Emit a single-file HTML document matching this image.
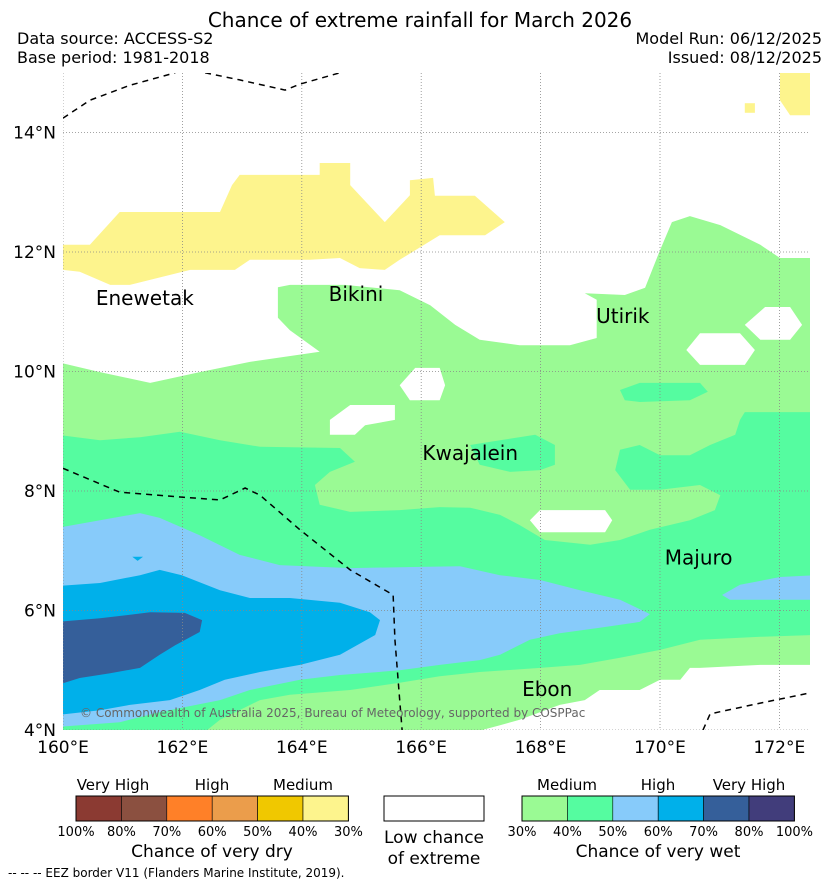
<!DOCTYPE html>
<html><head><meta charset="utf-8">
<style>
html,body{margin:0;padding:0;background:#fff;}
body{width:839px;height:885px;overflow:hidden;font-family:"DejaVu Sans","Liberation Sans",sans-serif;}
svg{display:block;}
</style></head>
<body>
<svg id="chart" width="839" height="885" viewBox="0 0 839 885" font-family="DejaVu Sans, Liberation Sans, sans-serif">
<defs><clipPath id="mapclip"><rect x="63" y="73" width="747" height="657"/></clipPath></defs>
<text x="420" y="27" text-anchor="middle" font-size="20">Chance of extreme rainfall for March 2026</text>
<text x="17" y="44" font-size="16">Data source: ACCESS-S2</text>
<text x="17" y="63" font-size="16">Base period: 1981-2018</text>
<text x="822" y="44" font-size="16" text-anchor="end">Model Run: 06/12/2025</text>
<text x="822" y="63" font-size="16" text-anchor="end">Issued: 08/12/2025</text>
<g id="map" clip-path="url(#mapclip)"></g>
<g id="axes"></g>
<g id="legend"></g>
</svg>
<script>
const NS="http://www.w3.org/2000/svg";
const lonTicks=[160,162,164,166,168,170,172];
const latTicks=[4,6,8,10,12,14];
const colDry=["#8b3a32","#8b5040","#ff8028","#eb9d4b","#f0c800","#fdf48d"];
const colWet=["#9afa94","#55fca0","#87cbfa","#00b0ea","#355f9a","#413d7b"];
const pctDry=["100%","80%","70%","60%","50%","40%","30%"];
const pctWet=["30%","40%","50%","60%","70%","80%","100%"];
const dryYellow=[[160,12.12],[160.45,12.12],[160.95,12.67],[162.63,12.67],[162.83,13.12],[162.96,13.29],[164.30,13.29],[164.30,13.49],[164.81,13.49],[164.81,13.12],[165.39,12.50],[165.81,12.95],[165.81,13.20],[166.20,13.24],[166.23,12.94],[166.90,12.94],[167.40,12.50],[167.07,12.28],[166.31,12.28],[165.64,11.87],[165.39,11.70],[164.97,11.73],[164.64,11.90],[164.14,11.87],[163.13,11.87],[162.88,11.70],[162.13,11.70],[161.12,11.45],[160.79,11.45],[160.28,11.67],[160,11.70]];
const dryYellowNE=[[172.01,15.2],[172.6,15.2],[172.6,14.29],[172.18,14.29],[172.01,14.54]];
const dryYellowSmall=[[171.42,14.49],[171.59,14.49],[171.59,14.33],[171.42,14.33]];
const wet30=[[159.9,10.16],[160.62,9.99],[161.46,9.81],[162.29,9.99],[163.13,10.16],[164.30,10.33],[163.80,10.69],[163.60,10.90],[163.60,11.41],[163.80,11.45],[164.72,11.45],[165.64,11.36],[166.15,11.11],[166.57,10.78],[166.98,10.53],[167.65,10.44],[168.49,10.44],[168.94,10.56],[168.94,11.20],[168.74,11.31],[169.41,11.28],[169.75,11.40],[170.00,12.03],[170.20,12.50],[170.50,12.60],[171.01,12.45],[171.68,12.12],[172.01,11.90],[172.6,11.90],[172.6,5.09],[171.68,5.09],[170.67,5.04],[170.50,5.04],[170.34,4.84],[170.00,4.84],[169.66,4.67],[168.99,4.67],[168.74,4.50],[168.32,4.42],[167.65,4.17],[167.32,4.08],[166.65,3.9],[159.9,3.9]];
const holes=[
 [[165.64,9.77],[165.90,10.06],[166.31,10.06],[166.40,9.77],[166.31,9.52],[165.81,9.52]],
 [[164.47,9.19],[164.81,9.44],[165.56,9.44],[165.56,9.19],[165.06,9.10],[164.89,8.94],[164.47,8.94]],
 [[167.82,7.51],[167.99,7.68],[169.08,7.68],[169.20,7.51],[169.08,7.31],[167.99,7.31]],
 [[170.44,10.36],[170.67,10.64],[171.34,10.64],[171.59,10.36],[171.42,10.11],[170.67,10.11]],
 [[171.42,10.78],[171.76,11.08],[172.18,11.08],[172.38,10.78],[172.18,10.53],[171.68,10.53]]];
const wet40=[[159.9,8.94],[160.62,8.85],[161.29,8.90],[161.96,8.99],[162.63,8.85],[163.30,8.74],[164.64,8.72],[164.89,8.49],[164.47,8.32],[164.22,8.10],[164.30,7.77],[164.81,7.65],[165.64,7.68],[166.31,7.73],[166.82,7.72],[167.32,7.60],[167.65,7.43],[168.07,7.18],[168.83,7.10],[169.33,7.18],[169.83,7.35],[170.50,7.51],[170.92,7.68],[171.01,7.93],[170.67,8.10],[170.00,8.02],[169.50,8.02],[169.25,8.35],[169.33,8.69],[169.66,8.77],[170.00,8.60],[170.50,8.60],[170.84,8.77],[171.26,8.94],[171.34,9.19],[171.42,9.32],[172.6,9.32],[172.6,5.59],[171.68,5.56],[170.67,5.51],[170.00,5.34],[169.33,5.21],[168.66,5.09],[167.99,5.04],[166.98,4.97],[166.31,4.90],[165.64,4.79],[164.81,4.67],[163.80,4.59],[163.30,4.50],[162.63,4.17],[162.29,3.9],[159.9,3.9]];
const wet40Kwaj=[[166.82,8.77],[167.32,8.85],[167.91,8.94],[168.24,8.77],[168.24,8.44],[167.99,8.35],[167.49,8.32],[166.98,8.44]];
const wet40North=[[169.33,9.69],[169.66,9.81],[170.67,9.81],[170.80,9.66],[170.50,9.52],[169.66,9.49],[169.41,9.52]];
const wet50=[[159.9,7.38],[160.62,7.51],[161.29,7.63],[161.62,7.55],[162.29,7.26],[162.96,6.93],[163.63,6.76],[164.81,6.71],[165.98,6.73],[166.65,6.74],[167.32,6.59],[167.99,6.51],[168.66,6.34],[169.33,6.18],[169.83,5.94],[169.66,5.81],[168.99,5.71],[168.32,5.62],[167.82,5.51],[167.32,5.26],[166.98,5.17],[166.31,5.09],[165.64,5.00],[164.64,4.92],[163.97,4.84],[163.13,4.67],[162.63,4.50],[161.62,4.30],[160.95,4.13],[160.28,4.08],[159.9,4.05]];
const wet50East=[[171.04,6.26],[171.34,6.43],[172.01,6.56],[172.6,6.59],[172.6,6.18],[171.68,6.18],[171.17,6.18]];
const wet60=[[159.9,6.41],[160.62,6.46],[161.29,6.59],[161.62,6.68],[161.99,6.59],[162.63,6.34],[163.13,6.21],[163.80,6.21],[164.64,6.13],[165.14,5.97],[165.31,5.84],[165.23,5.59],[164.64,5.26],[163.97,5.09],[163.30,4.97],[162.71,4.84],[162.29,4.67],[161.79,4.50],[161.12,4.42],[160.62,4.33],[159.9,4.25]];
const wet60Dot=[[161.16,6.90],[161.34,6.90],[161.25,6.83]];
const wet70=[[159.9,5.81],[160.62,5.87],[161.46,5.97],[162.04,5.96],[162.33,5.84],[162.29,5.64],[161.88,5.42],[161.62,5.26],[161.29,5.04],[160.79,4.95],[160.28,4.87],[159.9,4.75]];
const eez1=[[160,14.24],[160.45,14.54],[161.12,14.79],[161.88,15.0]];
const eez2=[[162.38,15],[162.96,14.88],[163.72,14.71],[163.97,14.81],[164.64,15]];
const eez3=[[160,8.38],[160.95,7.98],[161.96,7.90],[162.63,7.85],[163.05,8.05],[163.30,7.93],[163.97,7.35],[164.81,6.68],[165.53,6.26],[165.56,5.51],[165.64,4.50],[165.68,4]];
const eez4=[[170.72,4],[170.84,4.27],[171.68,4.45],[172.51,4.62]];
const placeNames=["Enewetak","Bikini","Utirik","Kwajalein","Majuro","Ebon"];
const placeLon=[160.55,164.45,168.93,166.02,170.08,167.69];
const placeLat=[11.11,11.18,10.81,8.52,6.77,4.57];

const X=lon=>63+(lon-160)*59.7;
const Y=lat=>730-(lat-4)*59.75;
function el(tag,attrs,parent){const e=document.createElementNS(NS,tag);for(const k in attrs)e.setAttribute(k,attrs[k]);parent.appendChild(e);return e;}
const map=document.getElementById('map');
function poly(pts,fill,name){
  const p=el('polygon',{points:pts.map(q=>X(q[0]).toFixed(1)+','+Y(q[1]).toFixed(1)).join(' '),fill:fill},map);
  
  
}
const bg=el('rect',{x:63,y:73,width:747,height:657,fill:'#fff'},map);


poly(dryYellow,colDry[5],'dry-30-region');
poly(dryYellowNE,colDry[5],'dry-30-region-ne');
poly(dryYellowSmall,colDry[5],'dry-30-region-small');
poly(wet30,colWet[0],'wet-30-region');
holes.forEach((h,i)=>poly(h,'#fff','low-chance-hole-'+i));
poly(wet40,colWet[1],'wet-40-region');
poly(wet40Kwaj,colWet[1],'wet-40-kwajalein');
poly(wet40North,colWet[1],'wet-40-north');
poly(wet50,colWet[2],'wet-50-region');
poly(wet50East,colWet[2],'wet-50-east');
poly(wet60,colWet[3],'wet-60-region');
poly(wet60Dot,colWet[3],'wet-60-dot');
poly(wet70,colWet[4],'wet-70-region');
lonTicks.forEach(l=>{const g=el('line',{x1:X(l),x2:X(l),y1:73,y2:730,stroke:'#888','stroke-width':0.8,'stroke-dasharray':'1,2'},map);
 
 });
latTicks.forEach(l=>{const g=el('line',{x1:63,x2:810,y1:Y(l),y2:Y(l),stroke:'#888','stroke-width':0.8,'stroke-dasharray':'1,2'},map);
 
 });
[eez1,eez2,eez3,eez4].forEach((l,i)=>{const p=el('polyline',{points:l.map(q=>X(q[0])+','+Y(q[1])).join(' '),fill:'none',stroke:'#000','stroke-width':1.5,'stroke-dasharray':'6,5'},map);
 
 });
placeNames.forEach((n,i)=>{const t=el('text',{x:X(placeLon[i]),y:Y(placeLat[i]),'font-size':20,fill:'#000'},map);t.textContent=n;
 
 });
const cp=el('text',{x:80,y:717,'font-size':12,fill:'#666'},map);cp.textContent='© Commonwealth of Australia 2025, Bureau of Meteorology, supported by COSPPac';


const axes=document.getElementById('axes');
lonTicks.forEach(l=>{const t=el('text',{x:X(l),y:753,'font-size':17,'text-anchor':'middle'},axes);t.textContent=l+'°E';
 
 });
latTicks.forEach(l=>{const t=el('text',{x:56,y:Y(l)+6,'font-size':17,'text-anchor':'end'},axes);t.textContent=l+'°N';
 
 });
const lg=document.getElementById('legend');
function bar(x0,cols,pcts,cats,catX,title,tx,nm){
  const w=45.4;
  cols.forEach((c,i)=>{const r=el('rect',{x:x0+i*w,y:796,width:w,height:25,fill:c,stroke:'#000','stroke-width':0.6},lg);
   
   });
  const fr=el('rect',{x:x0,y:796,width:w*6,height:25,fill:'none',stroke:'#000','stroke-width':1},lg);
  
  
  pcts.forEach((p,i)=>{const t=el('text',{x:x0+i*w,y:836,'font-size':13,'text-anchor':'middle'},lg);t.textContent=p;
   
   });
  cats.forEach((c,i)=>{const t=el('text',{x:catX[i],y:790,'font-size':15,'text-anchor':'middle'},lg);t.textContent=c;
   
   });
  const t=el('text',{x:tx,y:857,'font-size':17,'text-anchor':'middle'},lg);t.textContent=title;
  
  
}
bar(76,colDry,pctDry,["Very High","High","Medium"],[113,212,303],"Chance of very dry",212,'dry-legend');
bar(522,colWet,pctWet,["Medium","High","Very High"],[567,658,749],"Chance of very wet",658,'wet-legend');
const lb=el('rect',{x:384,y:796,width:100,height:25,fill:'#fff',stroke:'#000','stroke-width':1},lg);


const l1=el('text',{x:434,y:843,'font-size':17,'text-anchor':'middle'},lg);l1.textContent='Low chance';


const l2=el('text',{x:434,y:864,'font-size':17,'text-anchor':'middle'},lg);l2.textContent='of extreme';


const ft=el('text',{x:8,y:877,'font-size':12},lg);ft.textContent='--  --  -- EEZ border V11 (Flanders Marine Institute, 2019).';


</script>
</body></html>
